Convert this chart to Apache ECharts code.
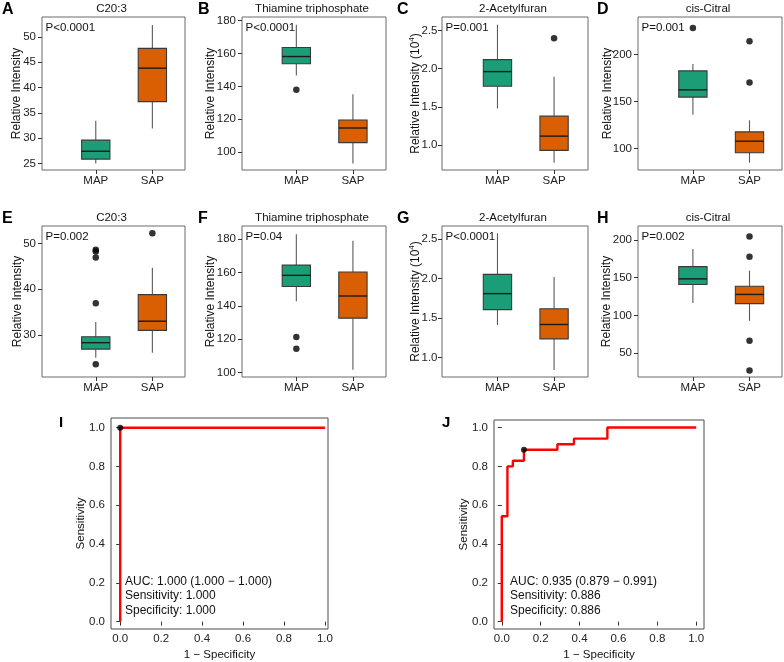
<!DOCTYPE html>
<html><head><meta charset="utf-8">
<script src="https://cdn.jsdelivr.net/npm/echarts@6/dist/echarts.min.js"></script>
<style>html,body{margin:0;padding:0;background:#fff}#c{width:784px;height:662px}</style>
</head><body><div id="c"></div>
<script>
// ---------------- DATA ----------------
const categories = ['MAP', 'SAP'];
const panelLetters = ['A', 'B', 'C', 'D', 'E', 'F', 'G', 'H'];
const panelTitles = ['C20:3', 'Thiamine triphosphate', '2-Acetylfuran', 'cis-Citral',
                     'C20:3', 'Thiamine triphosphate', '2-Acetylfuran', 'cis-Citral'];
const pValues = ['P<0.0001', 'P<0.0001', 'P=0.001', 'P=0.001',
                 'P=0.002', 'P=0.04', 'P<0.0001', 'P=0.002'];
const yNames = ['Relative Intensity', 'Relative Intensity', 'Relative Intensity (10{sup|4})', 'Relative Intensity',
                'Relative Intensity', 'Relative Intensity', 'Relative Intensity (10{sup|4})', 'Relative Intensity'];

// box statistics: [lower whisker, Q1, median, Q3, upper whisker]
const boxA_MAP = [25.0, 25.85, 27.4, 29.6, 33.4];
const boxA_SAP = [31.9, 37.2, 43.8, 47.7, 52.3];
const outA_MAP = [];
const outA_SAP = [];

const boxB_MAP = [146.6, 153.7, 158.1, 163.6, 177.4];
const boxB_SAP = [93.2, 105.8, 114.7, 119.6, 135.2];
const outB_MAP = [137.9];
const outB_SAP = [];

const boxC_MAP = [1.478, 1.77, 1.961, 2.118, 2.574];
const boxC_SAP = [0.77, 0.931, 1.117, 1.378, 1.892];
const outC_MAP = [];
const outC_SAP = [2.396];

const boxD_MAP = [135.9, 154.6, 162.3, 182.4, 189.8];
const boxD_SAP = [84.9, 95.4, 107.7, 117.6, 129.9];
const outD_MAP = [228.1];
const outD_SAP = [170.0, 214.0];

const boxE_MAP = [25.0, 26.9, 28.3, 29.6, 32.8];
const boxE_SAP = [26.1, 31.0, 33.0, 38.8, 44.7];
const outE_MAP = [23.6, 36.9, 46.9, 48.2, 48.6];
const outE_SAP = [52.2];

const boxF_MAP = [142.7, 151.6, 158.3, 164.4, 183.0];
const boxF_SAP = [101.6, 132.6, 145.9, 160.3, 179.1];
const outF_MAP = [114.2, 121.3];
const outF_SAP = [];

const boxG_MAP = [1.41, 1.607, 1.81, 2.054, 2.576];
const boxG_SAP = [0.84, 1.235, 1.418, 1.617, 2.02];
const outG_MAP = [];
const outG_SAP = [];

const boxH_MAP = [116.4, 141.0, 148.4, 164.6, 187.8];
const boxH_SAP = [92.8, 115.6, 127.8, 138.7, 159.3];
const outH_MAP = [];
const outH_SAP = [27.0, 66.6, 177.7, 204.4];

const yTicksA = [25, 30, 35, 40, 45, 50];
const yTicksB = [100, 120, 140, 160, 180];
const yTicksC = [1.0, 1.5, 2.0, 2.5];
const yTicksD = [100, 150, 200];
const yTicksE = [30, 40, 50];
const yTicksF = [100, 120, 140, 160, 180];
const yTicksG = [1.0, 1.5, 2.0, 2.5];
const yTicksH = [50, 100, 150, 200];

// ROC
const rocTicks = [0.0, 0.2, 0.4, 0.6, 0.8, 1.0];
const rocI_fpr = [0, 0, 1];
const rocI_tpr = [0, 1, 1];
const rocJ_fpr = [0, 0, 0.029, 0.029, 0.057, 0.057, 0.114, 0.114, 0.286, 0.286, 0.371, 0.371, 0.543, 0.543, 1.0];
const rocJ_tpr = [0, 0.543, 0.543, 0.8, 0.8, 0.829, 0.829, 0.886, 0.886, 0.914, 0.914, 0.943, 0.943, 1.0, 1.0];
const cutI = [0, 1];
const cutJ = [0.114, 0.886];
const aucI = ['AUC: 1.000 (1.000 \u2212 1.000)', 'Sensitivity: 1.000', 'Specificity: 1.000'];
const aucJ = ['AUC: 0.935 (0.879 \u2212 0.991)', 'Sensitivity: 0.886', 'Specificity: 0.886'];

// ---------------- LAYOUT / STYLE ----------------
const FONT = '"Liberation Sans", Arial, sans-serif';
const boxColors = ['#1b9e77', '#d95f02'];
const panels = [
  {box: [boxA_MAP, boxA_SAP], out: [outA_MAP, outA_SAP], ticks: yTicksA, dec: 0, range: [23.7, 53.9], grid: {left: 42, top: 17, width: 143, height: 153}, xmin: 0.05, gap: 19, lm: 6},
  {box: [boxB_MAP, boxB_SAP], out: [outB_MAP, outB_SAP], ticks: yTicksB, dec: 0, range: [89.2, 182.1], grid: {left: 242, top: 17, width: 144, height: 153}, xmin: 0.04, gap: 25.5, lm: 6},
  {box: [boxC_MAP, boxC_SAP], out: [outC_MAP, outC_SAP], ticks: yTicksC, dec: 1, range: [0.674, 2.675], grid: {left: 442, top: 17, width: 146, height: 153}, xmin: 0.02, gap: 19, lm: 4.5},
  {box: [boxD_MAP, boxD_SAP], out: [outD_MAP, outD_SAP], ticks: yTicksD, dec: 0, range: [77.1, 239.7], grid: {left: 638, top: 17, width: 144, height: 153}, xmin: 0.03, gap: 24.5, lm: 6},
  {box: [boxE_MAP, boxE_SAP], out: [outE_MAP, outE_SAP], ticks: yTicksE, dec: 0, range: [20.8, 53.8], grid: {left: 42, top: 226, width: 143, height: 151}, xmin: 0.05, gap: 18.5, lm: 6},
  {box: [boxF_MAP, boxF_SAP], out: [outF_MAP, outF_SAP], ticks: yTicksF, dec: 0, range: [97.3, 187.9], grid: {left: 242, top: 226, width: 144, height: 151}, xmin: 0.04, gap: 25.2, lm: 6},
  {box: [boxG_MAP, boxG_SAP], out: [outG_MAP, outG_SAP], ticks: yTicksG, dec: 1, range: [0.751, 2.669], grid: {left: 442, top: 226, width: 146, height: 151}, xmin: 0.02, gap: 19, lm: 4.5},
  {box: [boxH_MAP, boxH_SAP], out: [outH_MAP, outH_SAP], ticks: yTicksH, dec: 0, range: [18.5, 218.4], grid: {left: 638, top: 226, width: 144, height: 151}, xmin: 0.03, gap: 25, lm: 6}
];
const PX_PER_CAT = 56.6;
const rocPanels = [
  {fpr: rocI_fpr, tpr: rocI_tpr, cut: cutI, auc: aucI, letter: 'I', grid: {left: 111, top: 418, width: 217, height: 211}, x: [-0.045, 1.015], y: [-0.038, 1.05], textX: 125, letterX: 59},
  {fpr: rocJ_fpr, tpr: rocJ_tpr, cut: cutJ, auc: aucJ, letter: 'J', grid: {left: 494, top: 420, width: 210, height: 209}, x: [-0.04, 1.04], y: [-0.038, 1.039], textX: 510, letterX: 442}
];

function renderBox(params, api) {
  const g = api.value(0);
  const pLow = api.coord([g, api.value(1)]);
  const pQ1 = api.coord([g, api.value(2)]);
  const pMed = api.coord([g, api.value(3)]);
  const pQ3 = api.coord([g, api.value(4)]);
  const pHigh = api.coord([g, api.value(5)]);
  const hw = api.size([0.25, 0])[0];
  const cx = pMed[0];
  return {type: 'group', children: [
    {type: 'line', shape: {x1: cx, y1: pHigh[1], x2: cx, y2: pQ3[1]}, style: {stroke: '#5a5a5a', lineWidth: 1.1}},
    {type: 'line', shape: {x1: cx, y1: pQ1[1], x2: cx, y2: pLow[1]}, style: {stroke: '#5a5a5a', lineWidth: 1.1}},
    {type: 'rect', shape: {x: cx - hw, y: pQ3[1], width: 2 * hw, height: pQ1[1] - pQ3[1]}, style: {fill: boxColors[g - 1], stroke: '#3a3a3a', lineWidth: 1.1}},
    {type: 'line', shape: {x1: cx - hw, y1: pMed[1], x2: cx + hw, y2: pMed[1]}, style: {stroke: '#1a1a1a', lineWidth: 1.4}}
  ]};
}

const grids = [], xAxes = [], yAxes = [], series = [], texts = [];
const tickStyle = {show: true, length: 4, lineStyle: {color: '#333', width: 1}};

panels.forEach((p, i) => {
  grids.push(Object.assign({show: true, borderColor: '#6a6a6a', borderWidth: 1, backgroundColor: 'transparent'}, p.grid));
  xAxes.push({
    gridIndex: i, type: 'value', min: p.xmin, max: p.xmin + p.grid.width / PX_PER_CAT,
    axisLine: {show: false}, splitLine: {show: false},
    axisTick: Object.assign({customValues: [1, 2]}, tickStyle),
    axisLabel: {customValues: [1, 2], formatter: v => categories[Math.round(v) - 1], fontSize: 11.5, color: '#222', fontFamily: FONT, margin: 4.5}
  });
  yAxes.push({
    gridIndex: i, type: 'value', min: p.range[0], max: p.range[1],
    axisLine: {show: false}, splitLine: {show: false},
    axisTick: Object.assign({customValues: p.ticks}, tickStyle),
    axisLabel: {customValues: p.ticks, formatter: v => v.toFixed(p.dec), fontSize: 11.5, color: '#222', fontFamily: FONT, margin: p.lm},
    name: yNames[i], nameLocation: 'middle', nameGap: p.gap, nameMoveOverlap: false,
    nameTextStyle: {fontSize: 12, color: '#111', fontFamily: FONT, rich: {sup: {fontSize: 8, fontFamily: FONT, color: '#111', padding: [0, 0, 7, 0]}}}
  });
  series.push({
    type: 'custom', xAxisIndex: i, yAxisIndex: i, renderItem: renderBox,
    encode: {x: 0, y: [1, 2, 3, 4, 5]},
    data: p.box.map((b, k) => [k + 1].concat(b)), silent: true
  });
  const outData = [];
  p.out.forEach((arr, k) => arr.forEach(v => outData.push([k + 1, v])));
  series.push({type: 'scatter', xAxisIndex: i, yAxisIndex: i, data: outData, symbolSize: 6.5, itemStyle: {color: '#000'}, silent: true, z: 5});

  const g = p.grid;
  const cx = g.left + g.width / 2 - 2;
  texts.push({type: 'text', x: cx, y: g.top - 8.5, style: {text: panelTitles[i], fontSize: 11.5, fontFamily: FONT, fill: '#111', align: 'center', verticalAlign: 'middle'}});
  const lx = [2, 198, 397, 597][i % 4];
  texts.push({type: 'text', x: lx, y: g.top - 7.5, style: {text: panelLetters[i], fontSize: 16, fontWeight: 'bold', fontFamily: FONT, fill: '#000', align: 'left', verticalAlign: 'middle'}});
  texts.push({type: 'text', x: g.left + 3.5, y: g.top + 10.5, style: {text: pValues[i], fontSize: 11.5, fontFamily: FONT, fill: '#111', align: 'left', verticalAlign: 'middle'}});
});

rocPanels.forEach((r, j) => {
  const i = panels.length + j;
  grids.push(Object.assign({show: true, borderColor: '#4a4a4a', borderWidth: 1, backgroundColor: 'transparent'}, r.grid));
  xAxes.push({
    gridIndex: i, type: 'value', min: r.x[0], max: r.x[1],
    axisLine: {show: false}, splitLine: {show: false},
    axisTick: Object.assign({customValues: rocTicks}, tickStyle),
    axisLabel: {customValues: rocTicks, formatter: v => v.toFixed(1), fontSize: 11.5, color: '#222', fontFamily: FONT, margin: 4},
    name: '1 \u2212 Specificity', nameLocation: 'middle', nameGap: 19.5, nameMoveOverlap: false,
    nameTextStyle: {fontSize: 11.5, color: '#111', fontFamily: FONT}
  });
  yAxes.push({
    gridIndex: i, type: 'value', min: r.y[0], max: r.y[1],
    axisLine: {show: false}, splitLine: {show: false},
    axisTick: Object.assign({customValues: rocTicks}, tickStyle),
    axisLabel: {customValues: rocTicks, formatter: v => v.toFixed(1), fontSize: 11.5, color: '#222', fontFamily: FONT, margin: 6},
    name: 'Sensitivity', nameLocation: 'middle', nameGap: 24, nameMoveOverlap: false,
    nameTextStyle: {fontSize: 11.5, color: '#111', fontFamily: FONT}
  });
  series.push({
    type: 'line', xAxisIndex: i, yAxisIndex: i, data: r.fpr.map((f, k) => [f, r.tpr[k]]),
    showSymbol: false, lineStyle: {color: '#ff0000', width: 2.4}, silent: true, clip: false
  });
  series.push({type: 'scatter', xAxisIndex: i, yAxisIndex: i, data: [r.cut], symbolSize: 6, itemStyle: {color: '#000'}, silent: true, z: 5});
  r.auc.forEach((t, k) => {
    texts.push({type: 'text', x: r.textX, y: 581.7 + k * 14.3, style: {text: t, fontSize: 12, fontFamily: FONT, fill: '#111', align: 'left', verticalAlign: 'middle'}});
  });
  texts.push({type: 'text', x: r.letterX, y: 422.5, style: {text: r.letter, fontSize: 15, fontWeight: 'bold', fontFamily: FONT, fill: '#000', align: 'left', verticalAlign: 'middle'}});
});

const chart = echarts.init(document.getElementById('c'), null, {renderer: 'canvas'});
chart.setOption({
  animation: false,
  backgroundColor: '#fff',
  textStyle: {fontFamily: FONT},
  grid: grids, xAxis: xAxes, yAxis: yAxes, series: series,
  graphic: {elements: texts}
});
</script>
</body></html>
